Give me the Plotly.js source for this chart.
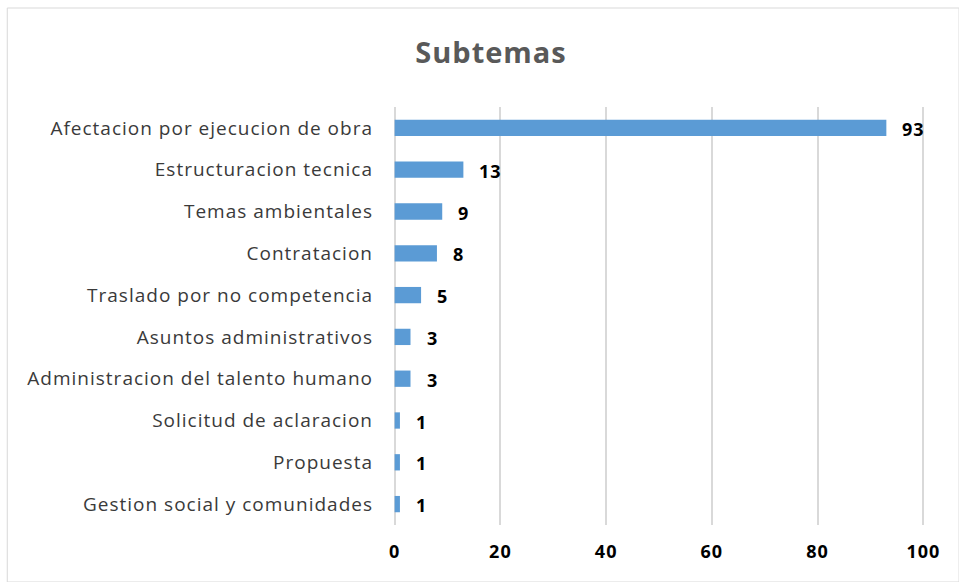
<!DOCTYPE html>
<html><head><meta charset="utf-8">
<script src="https://cdn.plot.ly/plotly-3.0.1.min.js"></script>
<style>
body{margin:0;background:#fff}#c{width:959px;height:582px}
.ytick text{letter-spacing:1px}
.xtick text{letter-spacing:1px}
.gtitle{letter-spacing:1px}
.annotation-text{letter-spacing:1px}
</style>
</head><body><div id="c"></div>
<script>
const categories = ["Afectacion por ejecucion de obra","Estructuracion tecnica","Temas ambientales","Contratacion","Traslado por no competencia","Asuntos administrativos","Administracion del talento humano","Solicitud de aclaracion","Propuesta","Gestion social y comunidades"];
const values = [93,13,9,8,5,3,3,1,1,1];
const tickVals = [0,20,40,60,80,100];

const cats = categories.slice().reverse();
const vals = values.slice().reverse();
const trace = {
  type:'bar', orientation:'h',
  y: cats, x: vals,
  marker:{color:'#5B9BD5'},
  hoverinfo:'none'
};
const annotations = cats.map((c,i)=>({
  x: vals[i], y: c, xref:'x', yref:'y', text:'<b>'+vals[i]+'</b>',
  showarrow:false, xanchor:'left', yanchor:'middle', xshift:14, yshift:-1,
  font:{family:'Open Sans, sans-serif', size:18, color:'#000'}
}));
const layout = {
  width:959, height:582,
  margin:{l:392, r:33, t:107, b:57},
  paper_bgcolor:'#fff', plot_bgcolor:'#fff',
  title:{text:'<b>Subtemas</b>', x:0.512, xanchor:'center', y:0.91, yanchor:'middle',
    font:{family:'Open Sans, sans-serif', size:29, color:'#595959'}},
  bargap:0.61,
  showlegend:false,
  annotations: annotations,
  xaxis:{range:[-0.5,100.5], tickvals:tickVals, ticktext:tickVals.map(v=>'<b>'+v+'</b>'),
    showgrid:true, gridcolor:'#D9D9D9', gridwidth:2, zeroline:true, zerolinecolor:'#D9D9D9', zerolinewidth:2, showline:false,
    tickfont:{family:'Open Sans, sans-serif', size:18, color:'#000'}, ticks:'', ticklen:0, ticklabelstandoff:14, fixedrange:true},
  yaxis:{showgrid:false, zeroline:false, showline:false, ticks:'', ticklen:0, ticklabelstandoff:18,
    tickfont:{family:'Open Sans, sans-serif', size:19, color:'#3a3a3a'}, automargin:false},
  shapes:[{type:'rect', xref:'paper', yref:'paper', x0:-384/533, x1:1+33/533, y0:-57/418, y1:1+99/418,
    line:{color:'#D9D9D9', width:1}, fillcolor:'rgba(0,0,0,0)'}]
};
Plotly.newPlot('c',[trace],layout,{displayModeBar:false, staticPlot:true});
</script></body></html>
